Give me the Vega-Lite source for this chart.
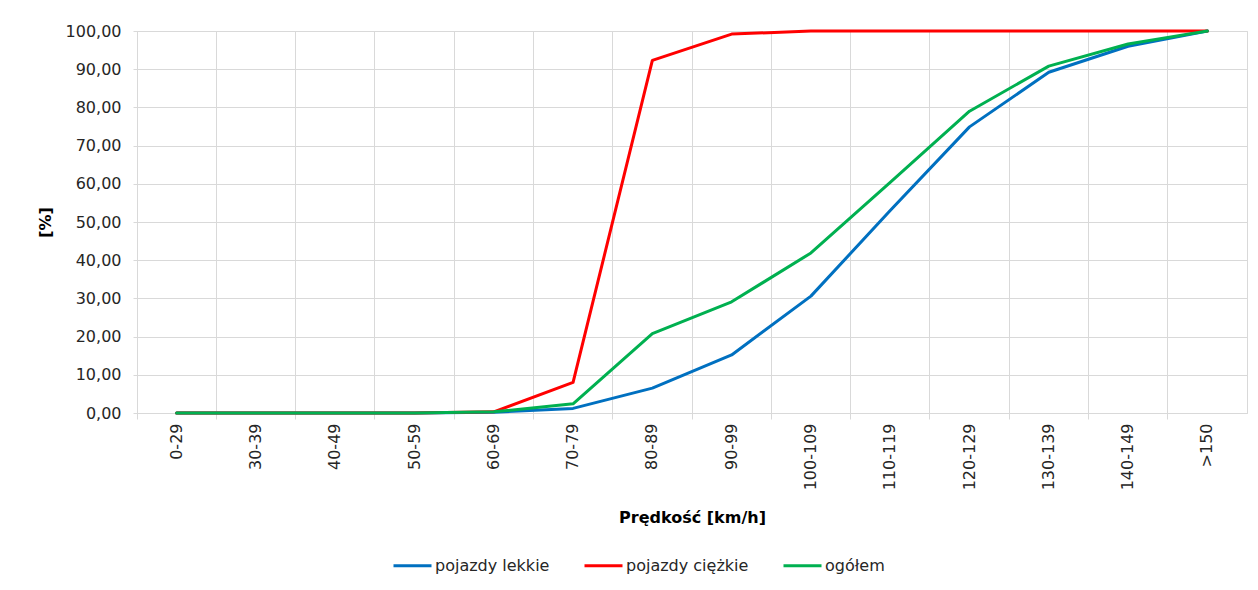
{
  "$schema": "https://vega.github.io/schema/vega-lite/v6.json",
  "width": 1110,
  "height": 382,
  "autosize": {"type": "none"},
  "padding": {"left": 137, "top": 31, "right": 11, "bottom": 177},
  "background": "white",
  "config": {
    "locale": {"number": {"decimal": ",", "thousands": " ", "grouping": [3], "currency": ["", " zł"]}},
    "font": "DejaVu Sans",
    "view": {"stroke": "#d9d9d9", "strokeWidth": 1},
    "axis": {"labelFont": "DejaVu Sans", "titleFont": "DejaVu Sans", "labelColor": "#262626", "titleColor": "#000000", "gridColor": "#d9d9d9", "domainColor": "#d9d9d9", "tickColor": "#d9d9d9"}
  },
  "data": {"values": [
    {"speed": "0-29", "series": "pojazdy lekkie", "value": 0},
    {"speed": "30-39", "series": "pojazdy lekkie", "value": 0},
    {"speed": "40-49", "series": "pojazdy lekkie", "value": 0},
    {"speed": "50-59", "series": "pojazdy lekkie", "value": 0},
    {"speed": "60-69", "series": "pojazdy lekkie", "value": 0.2},
    {"speed": "70-79", "series": "pojazdy lekkie", "value": 1.2},
    {"speed": "80-89", "series": "pojazdy lekkie", "value": 6.5},
    {"speed": "90-99", "series": "pojazdy lekkie", "value": 15.2},
    {"speed": "100-109", "series": "pojazdy lekkie", "value": 30.6},
    {"speed": "110-119", "series": "pojazdy lekkie", "value": 53.0},
    {"speed": "120-129", "series": "pojazdy lekkie", "value": 74.9},
    {"speed": "130-139", "series": "pojazdy lekkie", "value": 89.2},
    {"speed": "140-149", "series": "pojazdy lekkie", "value": 96.0},
    {"speed": ">150", "series": "pojazdy lekkie", "value": 100},
    {"speed": "0-29", "series": "pojazdy ciężkie", "value": 0},
    {"speed": "30-39", "series": "pojazdy ciężkie", "value": 0},
    {"speed": "40-49", "series": "pojazdy ciężkie", "value": 0},
    {"speed": "50-59", "series": "pojazdy ciężkie", "value": 0},
    {"speed": "60-69", "series": "pojazdy ciężkie", "value": 0.3},
    {"speed": "70-79", "series": "pojazdy ciężkie", "value": 8.0},
    {"speed": "80-89", "series": "pojazdy ciężkie", "value": 92.3},
    {"speed": "90-99", "series": "pojazdy ciężkie", "value": 99.2},
    {"speed": "100-109", "series": "pojazdy ciężkie", "value": 100},
    {"speed": "110-119", "series": "pojazdy ciężkie", "value": 100},
    {"speed": "120-129", "series": "pojazdy ciężkie", "value": 100},
    {"speed": "130-139", "series": "pojazdy ciężkie", "value": 100},
    {"speed": "140-149", "series": "pojazdy ciężkie", "value": 100},
    {"speed": ">150", "series": "pojazdy ciężkie", "value": 100},
    {"speed": "0-29", "series": "ogółem", "value": 0},
    {"speed": "30-39", "series": "ogółem", "value": 0},
    {"speed": "40-49", "series": "ogółem", "value": 0},
    {"speed": "50-59", "series": "ogółem", "value": 0},
    {"speed": "60-69", "series": "ogółem", "value": 0.3},
    {"speed": "70-79", "series": "ogółem", "value": 2.4},
    {"speed": "80-89", "series": "ogółem", "value": 20.8},
    {"speed": "90-99", "series": "ogółem", "value": 29.1},
    {"speed": "100-109", "series": "ogółem", "value": 41.9},
    {"speed": "110-119", "series": "ogółem", "value": 60.4},
    {"speed": "120-129", "series": "ogółem", "value": 79.0},
    {"speed": "130-139", "series": "ogółem", "value": 90.8},
    {"speed": "140-149", "series": "ogółem", "value": 96.6},
    {"speed": ">150", "series": "ogółem", "value": 100}
  ]},
  "mark": {"type": "line", "strokeWidth": 3, "strokeCap": "round", "strokeJoin": "round"},
  "encoding": {
    "x": {
      "field": "speed", "type": "ordinal", "sort": null,
      "bandPosition": 0.5,
      "scale": {"type": "band", "paddingInner": 0, "paddingOuter": 0},
      "axis": {
        "title": "Prędkość [km/h]", "titleFontSize": 16, "titleFontWeight": "bold", "titlePadding": 20,
        "labelAngle": -90, "labelFontSize": 16, "labelPadding": 4, "labelOffset": 0,
        "bandPosition": 0, "grid": true, "ticks": true, "tickSize": 6, "domain": true
      }
    },
    "y": {
      "field": "value", "type": "quantitative",
      "scale": {"domain": [0, 100], "nice": false},
      "axis": {
        "title": "[%]", "titleFontSize": 16, "titleFontWeight": "bold", "titlePadding": 12,
        "values": [0, 10, 20, 30, 40, 50, 60, 70, 80, 90, 100],
        "format": ".2f", "labelFontSize": 16, "labelPadding": 12, "ticks": true, "tickSize": 4, "domain": false, "grid": true
      }
    },
    "color": {
      "field": "series", "type": "nominal", "sort": ["pojazdy lekkie", "pojazdy ciężkie", "ogółem"],
      "scale": {"domain": ["pojazdy lekkie", "pojazdy ciężkie", "ogółem"], "range": ["#0070C0", "#FF0000", "#00B050"]},
      "legend": {
        "title": null, "orient": "none", "direction": "horizontal", "legendX": 255, "legendY": 514,
        "symbolType": "stroke", "symbolSize": 1444, "symbolStrokeWidth": 3,
        "labelFontSize": 16, "labelColor": "#262626", "labelOffset": 2, "columnPadding": 28
      }
    }
  }
}
